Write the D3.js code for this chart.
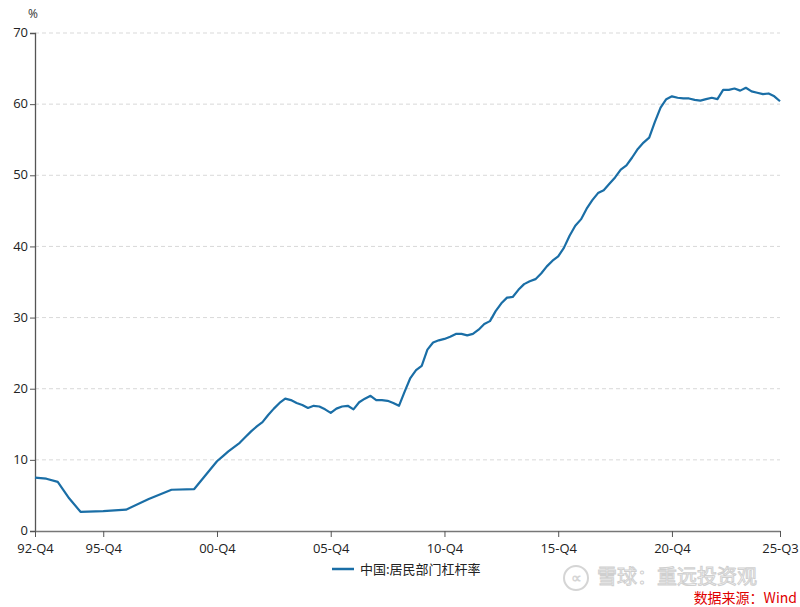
<!DOCTYPE html>
<html><head><meta charset="utf-8">
<script src="https://cdn.jsdelivr.net/npm/d3@7"></script>
<style>
body{margin:0;background:#fff;}
svg{display:block;}
</style></head>
<body>
<svg id="chart" width="800" height="607"></svg>
<script>
const quarters = ["92-Q4","93-Q2","93-Q4","94-Q2","94-Q4","95-Q4","96-Q4","97-Q4","98-Q4","99-Q4",
"00-Q4","01-Q1","01-Q2","01-Q3","01-Q4","02-Q1","02-Q2","02-Q3","02-Q4","03-Q1","03-Q2","03-Q3","03-Q4",
"04-Q1","04-Q2","04-Q3","04-Q4","05-Q1","05-Q2","05-Q3","05-Q4","06-Q1","06-Q2","06-Q3","06-Q4",
"07-Q1","07-Q2","07-Q3","07-Q4","08-Q1","08-Q2","08-Q3","08-Q4","09-Q1","09-Q2","09-Q3","09-Q4",
"10-Q1","10-Q2","10-Q3","10-Q4","11-Q1","11-Q2","11-Q3","11-Q4","12-Q1","12-Q2","12-Q3","12-Q4",
"13-Q1","13-Q2","13-Q3","13-Q4","14-Q1","14-Q2","14-Q3","14-Q4","15-Q1","15-Q2","15-Q3","15-Q4",
"16-Q1","16-Q2","16-Q3","16-Q4","17-Q1","17-Q2","17-Q3","17-Q4","18-Q1","18-Q2","18-Q3","18-Q4",
"19-Q1","19-Q2","19-Q3","19-Q4","20-Q1","20-Q2","20-Q3","20-Q4","21-Q1","21-Q2","21-Q3","21-Q4",
"22-Q1","22-Q2","22-Q3","22-Q4","23-Q1","23-Q2","23-Q3","23-Q4","24-Q1","24-Q2","24-Q3","24-Q4",
"25-Q1","25-Q2","25-Q3"];
const leverage = [7.5,7.35,6.9,4.6,2.7,2.8,3.0,4.5,5.8,5.9,
9.8,10.5,11.2,11.8,12.4,13.2,14.0,14.7,15.3,16.3,17.2,18.0,18.6,
18.4,18.0,17.7,17.3,17.6,17.5,17.1,16.6,17.2,17.5,17.6,17.1,
18.1,18.6,19.0,18.4,18.4,18.3,18.0,17.6,19.6,21.5,22.6,23.2,
25.5,26.5,26.8,27.0,27.3,27.7,27.7,27.5,27.7,28.3,29.1,29.5,
30.9,32.0,32.8,32.9,33.9,34.7,35.1,35.4,36.2,37.2,38.0,38.6,
39.8,41.5,42.9,43.8,45.3,46.5,47.5,47.9,48.8,49.7,50.8,51.4,
52.5,53.7,54.6,55.3,57.5,59.5,60.7,61.1,60.9,60.8,60.8,60.6,
60.5,60.7,60.9,60.7,62.0,62.0,62.2,61.9,62.3,61.8,61.6,61.4,
61.5,61.1,60.4];
const xTickLabels = ["92-Q4","95-Q4","00-Q4","05-Q4","10-Q4","15-Q4","20-Q4","25-Q3"];
const yTicks = [0,10,20,30,40,50,60,70];
const seriesName = "中国:居民部门杠杆率";
const sourceText = "数据来源：Wind";
const watermarkText = "雪球：重远投资观";

function qIndex(s){ const yy=+s.slice(0,2); const y = yy>50?1900+yy:2000+yy; const q=+s.slice(4); return (y-1992)*4+(q-4); }

const svg = d3.select("#chart");
const L=35, R=780, T=33, B=531;
const x = d3.scaleLinear().domain([qIndex("92-Q4"), qIndex("25-Q3")]).range([L,R]);
const y = d3.scaleLinear().domain([0,70]).range([B,T]);
const font = "'Open Sans','Noto Sans',sans-serif";

// grid
svg.append("g").selectAll("line").data(yTicks.filter(d=>d>0)).join("line")
  .attr("x1",L).attr("x2",R).attr("y1",d=>y(d)).attr("y2",d=>y(d))
  .attr("stroke","#d9d9d9").attr("stroke-dasharray","4,3").attr("stroke-width",1);

// y axis
const yAxis = svg.append("g").attr("transform",`translate(${L},0)`)
  .call(d3.axisLeft(y).tickValues(yTicks).tickSize(5).tickPadding(2));
yAxis.select(".domain").attr("stroke","#555").attr("stroke-width",1.3);
yAxis.selectAll(".tick line").attr("stroke","#555");
yAxis.selectAll("text").attr("font-family",font).attr("font-size",13).attr("fill","#222").attr("dy","0.28em");

// x axis
const xAxis = svg.append("g").attr("transform",`translate(0,${B})`)
  .call(d3.axisBottom(x).tickValues(xTickLabels.map(qIndex)).tickFormat((d,i)=>xTickLabels[i]).tickSize(6).tickSizeOuter(0).tickPadding(7));
xAxis.select(".domain").attr("stroke","#777").attr("stroke-width",1.5);
xAxis.selectAll(".tick line").attr("stroke","#555");
xAxis.selectAll("text").attr("font-family",font).attr("font-size",13).attr("fill","#222");

svg.append("text").attr("x",33).attr("y",18).attr("text-anchor","middle")
  .attr("font-family",font).attr("font-size",12).attr("fill","#333").text("%");

// line
const data = quarters.map((q,i)=>({q:qIndex(q), v:leverage[i]}));
svg.append("path").datum(data)
  .attr("fill","none").attr("stroke","#1a6ea6").attr("stroke-width",2.2).attr("stroke-linejoin","round")
  .attr("d", d3.line().x(d=>x(d.q)).y(d=>y(d.v)));

// legend
svg.append("line").attr("x1",332).attr("x2",354).attr("y1",569).attr("y2",569)
  .attr("stroke","#1a6ea6").attr("stroke-width",2.5);
svg.append("text").attr("x",360).attr("y",574).attr("font-family","'Noto Sans CJK SC',sans-serif")
  .attr("font-size",13).attr("fill","#222").text(seriesName);

// watermark
const wm = svg.append("g").attr("opacity",0.35);
wm.append("circle").attr("cx",576).attr("cy",578).attr("r",12).attr("fill","none").attr("stroke","#888").attr("stroke-width",2);
wm.append("text").attr("x",576).attr("y",583).attr("text-anchor","middle").attr("font-family",font)
  .attr("font-size",15).attr("font-weight","bold").attr("fill","#888").text("∝");
wm.append("text").attr("x",597).attr("y",584).attr("font-family","'Noto Sans CJK SC',sans-serif")
  .attr("font-size",20).attr("fill","none").attr("stroke","#777").attr("stroke-width",1).text(watermarkText);

svg.append("text").attr("x",797).attr("y",603).attr("text-anchor","end")
  .attr("font-family","'Noto Sans CJK SC',sans-serif").attr("font-size",14).attr("fill","#e00000").text(sourceText);
</script>
</body></html>
